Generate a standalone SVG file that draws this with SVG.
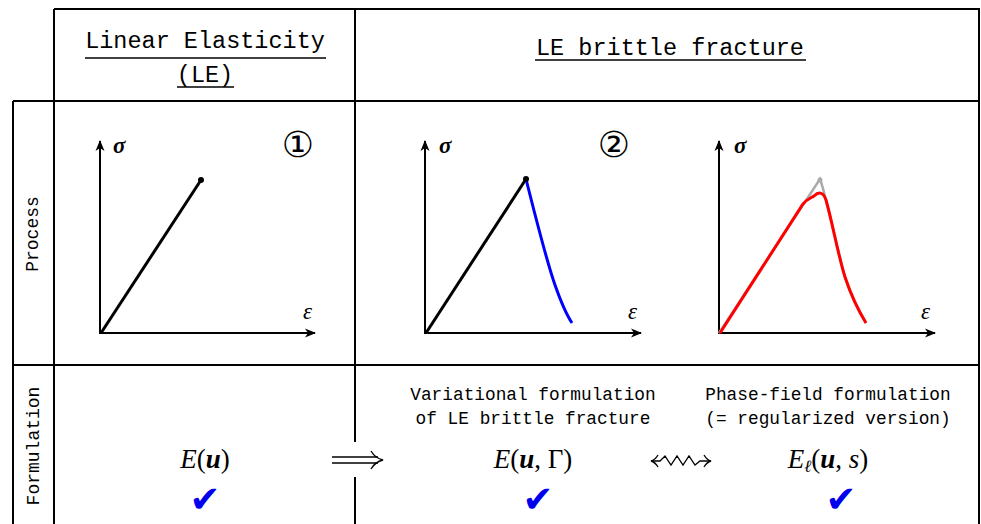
<svg xmlns="http://www.w3.org/2000/svg" width="981" height="524" viewBox="0 0 981 524">
<style>
.grid{stroke:#000;stroke-width:2;fill:none}
.ax{stroke:#000;stroke-width:2;fill:none}
.hd{font-family:"Liberation Mono","DejaVu Sans Mono",monospace;font-size:23.5px;fill:#000}
.tt{font-family:"Liberation Mono","DejaVu Sans Mono",monospace;font-size:17.8px;fill:#000}
.rh{font-family:"Liberation Mono","DejaVu Sans Mono",monospace;font-size:18px;fill:#000}
.m{font-family:"Liberation Serif","DejaVu Serif",serif;font-size:27px;fill:#000}
.sym{font-family:"Liberation Serif","DejaVu Serif",serif;font-size:23px;fill:#000;font-style:italic}
.ck{font-family:"DejaVu Sans","Noto Sans CJK JP",sans-serif;font-size:37px;fill:#0000ee}
.cn{font-family:"DejaVu Sans","Noto Sans CJK JP",sans-serif;font-size:36px;fill:#000}
.ul{stroke:#000;stroke-width:1.5}
</style>
<defs>
<marker id="ah" markerWidth="12" markerHeight="10" refX="10" refY="5" orient="auto" markerUnits="userSpaceOnUse">
<path d="M0,0.5 L11,5 L0,9.5 L3,5 z" fill="#000"/>
</marker>
</defs>

<g id="table">
<line class="grid" x1="54" y1="9" x2="980" y2="9"/>
<line class="grid" x1="13" y1="101" x2="980" y2="101"/>
<line class="grid" x1="13" y1="365" x2="980" y2="365"/>
<line class="grid" x1="13" y1="101" x2="13" y2="524"/>
<line class="grid" x1="54" y1="9" x2="54" y2="524"/>
<line class="grid" x1="355" y1="9" x2="355" y2="442"/>
<line class="grid" x1="355" y1="477" x2="355" y2="524"/>
<line class="grid" x1="979" y1="9" x2="979" y2="524"/>
</g>

<g id="header-le">
<text class="hd" x="205" y="48" text-anchor="middle">Linear Elasticity</text>
<line class="ul" x1="85" y1="58" x2="326" y2="58"/>
<text class="hd" x="205" y="82" text-anchor="middle">(LE)</text>
<line class="ul" x1="177" y1="87" x2="234" y2="87"/>
</g>

<g id="header-fracture">
<text class="hd" x="670" y="55" text-anchor="middle">LE brittle fracture</text>
<line class="ul" x1="535" y1="60" x2="806" y2="60"/>
</g>

<g id="row-process">
<text class="rh" transform="translate(38,234) rotate(-90)" text-anchor="middle">Process</text>
</g>
<g id="row-formulation">
<text class="rh" transform="translate(39,446) rotate(-90)" text-anchor="middle">Formulation</text>
</g>

<g id="plot1">
<line class="ax" x1="100" y1="334" x2="100" y2="141" marker-end="url(#ah)"/>
<line class="ax" x1="99" y1="333" x2="315" y2="333" marker-end="url(#ah)"/>
<line x1="101" y1="333" x2="201" y2="180" stroke="#000" stroke-width="3"/>
<circle cx="201" cy="180" r="3" fill="#000"/>
<text class="sym" x="113" y="153" font-weight="bold">σ</text>
<text class="sym" x="303" y="319">ε</text>
<text class="cn" x="298" y="157" text-anchor="middle">①</text>
</g>

<g id="plot2">
<line class="ax" x1="425" y1="334" x2="425" y2="141" marker-end="url(#ah)"/>
<line class="ax" x1="424" y1="333" x2="641" y2="333" marker-end="url(#ah)"/>
<line x1="426" y1="333" x2="526" y2="179" stroke="#000" stroke-width="3"/>
<path d="M526,179 C535,215 548,265 555,285 C561,302 566,314 572,323" stroke="#0000ff" stroke-width="3" fill="none"/>
<circle cx="526" cy="179" r="3" fill="#000"/>
<text class="sym" x="439" y="153" font-weight="bold">σ</text>
<text class="sym" x="628" y="319">ε</text>
<text class="cn" x="614" y="157" text-anchor="middle">②</text>
</g>

<g id="plot3">
<line class="ax" x1="719" y1="334" x2="719" y2="141" marker-end="url(#ah)"/>
<line class="ax" x1="718" y1="333" x2="935" y2="333" marker-end="url(#ah)"/>
<path d="M719,333 L820,179 C826,195 835,240 845,277 C852,300 860,312 866,323" stroke="#aaaaaa" stroke-width="2.5" fill="none"/>
<circle cx="820" cy="180" r="2.5" fill="#aaaaaa"/>
<path d="M720,333 L803,204 C807,199 811,198 814,196 C818,192 823,191 826,200 C833,225 838,255 845,277 C852,298 858,310 866,323" stroke="#ff0000" stroke-width="3" fill="none"/>
<text class="sym" x="734" y="153" font-weight="bold">σ</text>
<text class="sym" x="921" y="319">ε</text>
</g>

<g id="form-le">
<text class="m" x="205" y="468" text-anchor="middle"><tspan font-style="italic">E</tspan>(<tspan font-style="italic" font-weight="bold">u</tspan>)</text>
<text class="ck" x="205" y="512" text-anchor="middle">✔</text>
</g>

<g id="form-variational">
<text class="tt" x="533" y="400" text-anchor="middle">Variational formulation</text>
<text class="tt" x="533" y="424" text-anchor="middle">of LE brittle fracture</text>
<text class="m" x="533" y="468" text-anchor="middle"><tspan font-style="italic">E</tspan>(<tspan font-style="italic" font-weight="bold">u</tspan>, Γ)</text>
<text class="ck" x="538" y="512" text-anchor="middle">✔</text>
</g>

<g id="form-phasefield">
<text class="tt" x="828" y="400" text-anchor="middle">Phase-field formulation</text>
<text class="tt" x="828" y="424" text-anchor="middle">(= regularized version)</text>
<text class="m" x="828" y="468" text-anchor="middle"><tspan font-style="italic">E</tspan><tspan font-size="17" dy="4" font-style="italic">ℓ</tspan><tspan dy="-4">(</tspan><tspan font-style="italic" font-weight="bold">u</tspan>, <tspan font-style="italic">s</tspan>)</text>
<text class="ck" x="841" y="512" text-anchor="middle">✔</text>
</g>

<g id="connectors">
<line x1="332" y1="457" x2="378" y2="457" stroke="#000" stroke-width="1.3"/>
<line x1="332" y1="463" x2="378" y2="463" stroke="#000" stroke-width="1.3"/>
<path d="M371,451 Q375,458 383,460 Q375,462 371,469" stroke="#000" stroke-width="1.3" fill="none"/>
<path d="M653,461 L660,461 L665,456 L671,465 L677,456 L683,465 L689,456 L695,465 L700,461 L709,461" stroke="#000" stroke-width="1.3" fill="none" stroke-linejoin="miter"/>
<path d="M658,455 Q655,460 651,461 Q655,462 658,467" stroke="#000" stroke-width="1.3" fill="none"/>
<path d="M704,455 Q707,460 711,461 Q707,462 704,467" stroke="#000" stroke-width="1.3" fill="none"/>
</g>
</svg>
